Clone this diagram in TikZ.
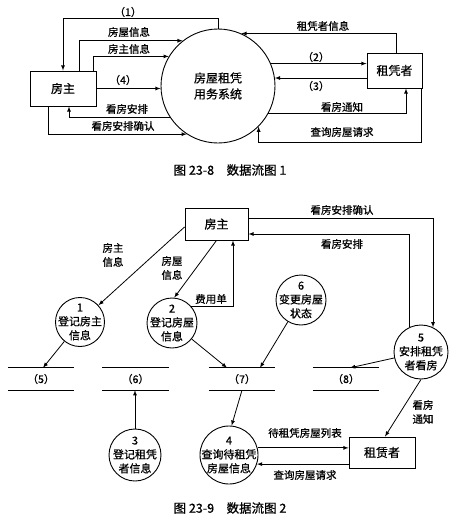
\documentclass[tikz,border=0pt]{standalone}
\usepackage{fontspec}
\setmainfont{Noto Sans CJK SC}[FakeBold=0.7]
\usepackage{tikz}
\usetikzlibrary{arrows}
\usetikzlibrary{positioning}
\tikzset{>=latex}
\tikzstyle{ent} = [rectangle, draw, line width=0.9pt, inner sep=0, font=\fontsize{12}{14}\selectfont]
\tikzstyle{proc} = [circle, draw, line width=0.9pt, inner sep=0]
\tikzstyle{proctxt} = [align=center, inner sep=0, font=\fontsize{11}{14}\selectfont]
\tikzstyle{flow} = [-latex, line width=0.8pt]
\tikzstyle{lbl} = [draw=none, inner sep=0, align=center, font=\fontsize{10.5}{14}\selectfont]
\tikzstyle{store} = [draw=none, minimum width=66, minimum height=22, inner sep=0, font=\fontsize{10.5}{12}\selectfont]

\begin{document}
\begin{tikzpicture}[x=1pt, y=-1pt]
\useasboundingbox (0,0) rectangle (460,525);
% diagram 1
\node [ent, minimum width=66, minimum height=35] (fz) at (63, 88.5) {房主};
\node [proc, minimum size=114, label={[proctxt, font=\fontsize{12}{16}\selectfont]center:{房屋租凭\\用务系统}}] (sys) at (218, 86) {};
\node [ent, minimum width=55, minimum height=35] (zpz) at (394.5, 70.5) {租凭者};
\draw [flow] (sys.north) -- ++(0,-10) -| (fz.north);
\draw [flow] ([xshift=16pt]fz.north) |- (sys.128);
\draw [flow] ([xshift=30pt]fz.north) |- (sys.149);
\draw [flow] (fz.east) -- (sys.west |- fz.east);
\draw [flow] (sys.213) -| ([xshift=6pt]fz.south);
\draw [flow] ([xshift=-15pt]fz.south) |- (sys.237);
\draw [flow] ([xshift=2pt]zpz.north) |- (sys.66);
\draw [flow] (sys.23) -- (sys.23 -| zpz.west);
\draw [flow] (zpz.west |- sys.8) -- (sys.8);
\draw [flow] (sys.-29) -| ([xshift=11.5pt]zpz.south);
\draw [flow] ([xshift=26.5pt]zpz.south) -- ++(0,54) -| (sys.-45);
\node [lbl] (l1) at (128, 12) {（1）};
\node [lbl] (lfwxx) at (129, 32) {房屋信息};
\node [lbl] (lfzxx) at (129, 49) {房主信息};
\node [lbl] (l4) at (123, 80) {（4）};
\node [lbl] (lkfap) at (127, 109) {看房安排};
\node [lbl] (lkfqr) at (123, 126) {看房安排确认};
\node [lbl] (lzpxx) at (323, 26) {租凭者信息};
\node [lbl] (l2) at (316, 57) {（2）};
\node [lbl] (l3) at (316, 86) {（3）};
\node [lbl] (lkftz) at (342, 107) {看房通知};
\node [lbl] (lcxqq) at (342, 132) {查询房屋请求};
\node [draw=none, font=\fontsize{12.5}{14}\selectfont] (cap1) at (230, 170) {图 23-8\quad 数据流图 1};
% diagram 2
\node [ent, minimum width=63, minimum height=32] (fzb) at (216.5, 224) {房主};
\node [ent, minimum width=66, minimum height=31] (zlb) at (382, 452.5) {租赁者};
\node [proc, minimum size=49, label={[proctxt]center:{1\\登记房主\\信息}}] (c1) at (80, 322) {};
\node [proc, minimum size=50, label={[proctxt]center:{2\\登记房屋\\信息}}] (c2) at (172, 323) {};
\node [proc, minimum size=52, label={[proctxt]center:{3\\登记租凭\\者信息}}] (c3) at (135, 455) {};
\node [proc, minimum size=58, label={[proctxt]center:{4\\查询待租凭\\房屋信息}}] (c4) at (229, 455) {};
\node [proc, minimum size=54, label={[proctxt]center:{5\\安排租凭\\者看房}}] (c5) at (421, 352) {};
\node [proc, minimum size=50, label={[proctxt]center:{6\\变更房屋\\状态}}] (c6) at (301, 300) {};
\node [store] (s5) at (41, 379) {（5）};
\node [store] (s6) at (135.5, 379) {（6）};
\node [store] (s7) at (242, 379) {（7）};
\node [store] (s8) at (346, 379) {（8）};
\foreach \s in {s5, s6, s7, s8} {
  \draw [line width=0.9pt] (\s.north west) -- (\s.north east);
  \draw [line width=0.9pt] (\s.south west) -- (\s.south east);
}
\draw [flow] ([yshift=-3pt]fzb.west) -- (c1);
\draw [flow] (fzb.south) -- (c2.85);
\draw [flow] (c2.40) -| ([xshift=16.5pt]fzb.south);
\draw [flow] (c1) -- ([xshift=2pt]s5.north);
\draw [flow] (c2) -- ([xshift=-15pt]s7.north);
\draw [flow] (c6) -- ([xshift=18pt]s7.north);
\draw [flow] (c5) -- ([xshift=4pt]s8.north);
\draw [flow] ([yshift=6pt]fzb.east) -| (c5.64);
\draw [flow] (c5.114) |- ([yshift=-10pt]fzb.east);
\draw [flow] (c5.south) -- ([xshift=3pt]zlb.north);
\draw [flow] (c3.north) -- (c3.north |- s6.south);
\draw [flow] (s7.south) -- (c4.85);
\draw [flow] (c4.14) -- (c4.14 -| zlb.west);
\draw [flow] (zlb.west |- c4.-18) -- (c4.-18);
\node [lbl] (lfzxx2) at (113, 255) {房主\\信息};
\node [lbl] (lfwxx2) at (172, 268) {房屋\\信息};
\node [lbl] (lfyd) at (211, 299) {费用单};
\node [lbl] (lkfqr2) at (342, 210) {看房安排确认};
\node [lbl] (lkfap2) at (342, 244) {看房安排};
\node [lbl] (lkftz2) at (423, 412) {看房\\通知};
\node [lbl] (ldzlb) at (305, 433) {待租凭房屋列表};
\node [lbl] (lcxqq2) at (305, 475) {查询房屋请求};
\node [draw=none, font=\fontsize{12.5}{14}\selectfont] (cap2) at (230, 508) {图 23-9\quad 数据流图 2};
\end{tikzpicture}
\end{document}
